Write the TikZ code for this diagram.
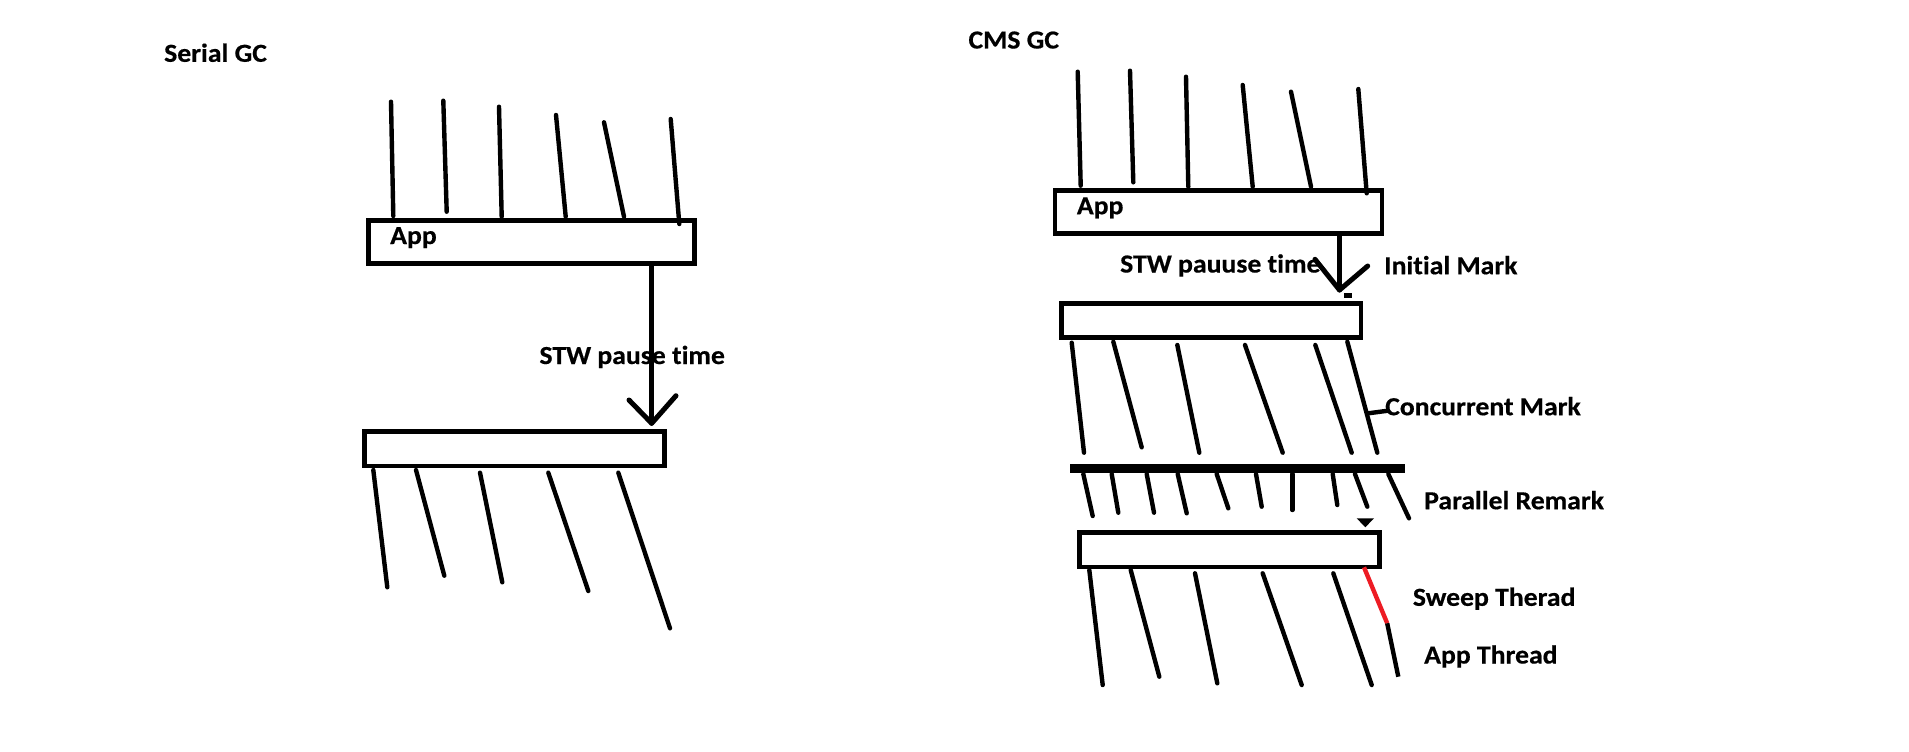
\documentclass[tikz,border=0pt]{standalone}
\usepackage{fontspec}
\setmainfont{Carlito}[FakeStretch=1.065,Ligatures={NoCommon},BoldFeatures={FakeBold=0.5}]
\definecolor{mspred}{RGB}{237,28,36}
\begin{document}
\begin{tikzpicture}[x=1pt,y=-1pt,
  thread/.style={line width=4.4pt,line cap=round,line join=round},
  box/.style={draw,line width=4.5pt,rectangle,inner sep=0pt},
  lbl/.style={inner sep=0pt,anchor=base west,yshift=-2.5pt,font=\fontsize{26}{30}\selectfont\bfseries}]
\useasboundingbox[fill=white] (0,0) rectangle (1909,752);

% ---------------- Serial GC ----------------
\node[lbl] (stitle) at (164,59.3) {Serial GC};

\node[box,minimum width=326pt,minimum height=42.6pt] (sapp) at (531.3,242) {};
\node[lbl] (sapplbl) at (390,241.5) {App};

\draw[thread] (391,101.7) -- (393.3,216);
\draw[thread] (443.3,100.7) -- (446.7,211.7);
\draw[thread] (499,106.7) -- (501.7,216.7);
\draw[thread] (556,115) -- (565.7,216.7);
\draw[thread] (604,122.3) -- (624,216.7);
\draw[thread] (670.7,119) -- (679.3,224);

\node[lbl] (sstw) at (539.3,361.5) {STW pause time};

\node[box,minimum width=299.8pt,minimum height=34.4pt] (sgc) at (514.5,448.8) {};

\coordinate (stip) at (651.7,423.3);
\draw[thread,line width=5pt] (sapp.south -| stip) -- (stip);
\draw[thread,line width=5pt] (629,400) -- (stip) -- (676,395.7);

\draw[thread] (373.3,470) -- (387.3,587.3);
\draw[thread] (416,470) -- (444.3,575.7);
\draw[thread] (480,472.7) -- (502.3,582.3);
\draw[thread] (548.3,472.7) -- (588.3,591);
\draw[thread] (618.3,472.7) -- (670,628.3);

% ---------------- CMS GC ----------------
\node[lbl] (ctitle) at (968.3,46) {CMS GC};

\node[box,minimum width=327pt,minimum height=43.1pt] (capp) at (1218.5,212.15) {};
\node[lbl] (capplbl) at (1076.7,211.7) {App};

\draw[thread] (1077.7,71.7) -- (1080.7,185.7);
\draw[thread] (1130,70.7) -- (1133.3,182.3);
\draw[thread] (1186,76.7) -- (1188.3,186.7);
\draw[thread] (1242.7,85) -- (1252.7,186.7);
\draw[thread] (1291,91.7) -- (1311,186.7);
\draw[thread] (1358.3,89) -- (1366.7,193.3);

\node[lbl] (cstw) at (1120,270) {STW pauuse time};
\node[lbl] (cinit) at (1384,271.7) {Initial Mark};

\coordinate (ctip) at (1339.5,290);
\draw[thread,line width=5pt] (capp.south -| ctip) -- (ctip);
\draw[thread,line width=5pt] (1315,259.3) -- (ctip) -- (1367.7,266);
\fill (1344,293.3) rectangle (1351.7,297.5);

\node[box,minimum width=299.4pt,minimum height=34.4pt] (cinitbox) at (1211.3,320.5) {};

% concurrent mark threads
\draw[thread] (1071.7,342.7) -- (1084,452.7);
\draw[thread] (1113.3,341.7) -- (1141.7,447.3);
\draw[thread] (1177.3,345) -- (1199.3,452.7);
\draw[thread] (1245,345) -- (1282.7,452.7);
\draw[thread] (1315.3,345) -- (1351.7,452.7);
\draw[thread] (1347.3,341.7) -- (1377.3,452.7);
\node[lbl] (cconc) at (1385,412.7) {Concurrent Mark};
\draw[thread,line cap=butt] (1368.3,413.3) -- (1388,410.7);

% remark bar
\node[fill,inner sep=0pt,minimum width=335pt,minimum height=9pt] (cbar) at (1237.5,468.8) {};

\draw[thread] (1083.3,474) -- (1092.7,516);
\draw[thread] (1111.7,474) -- (1118.3,512.7);
\draw[thread] (1146.7,474) -- (1154,512.7);
\draw[thread] (1177.7,474) -- (1186.7,513.3);
\draw[thread] (1216.7,474) -- (1228.3,508.3);
\draw[thread] (1256,474) -- (1261.7,506.7);
\draw[thread] (1292.3,474) -- (1292.3,510);
\draw[thread] (1332.7,474) -- (1337.3,505);
\draw[thread] (1355,474) -- (1367.3,506.7);
\draw[thread] (1388.3,474) -- (1409,518.3);
\node[lbl] (cremark) at (1424,506.7) {Parallel Remark};

\fill (1356.7,518.3) -- (1374,518.3) -- (1365.3,527.3) -- cycle;

\node[box,minimum width=299.6pt,minimum height=34.7pt] (csweepbox) at (1229.5,549.65) {};

\draw[thread] (1089.3,570) -- (1102.7,685);
\draw[thread] (1130.7,570) -- (1159.3,676.7);
\draw[thread] (1195,573.3) -- (1217.3,683.3);
\draw[thread] (1262.7,573.3) -- (1301.7,685);
\draw[thread] (1333.3,573.3) -- (1371.7,685);
\coordinate (csplit) at (1387.2,623.3);
\draw[thread,mspred,line cap=butt] (1364,567.3) -- (csplit);
\draw[thread,line cap=butt] (csplit) -- (1398.3,676.7);

\node[lbl] (csweep) at (1412.7,603.3) {Sweep Therad};
\node[lbl] (capptd) at (1424,661) {App Thread};
\end{tikzpicture}
\end{document}
